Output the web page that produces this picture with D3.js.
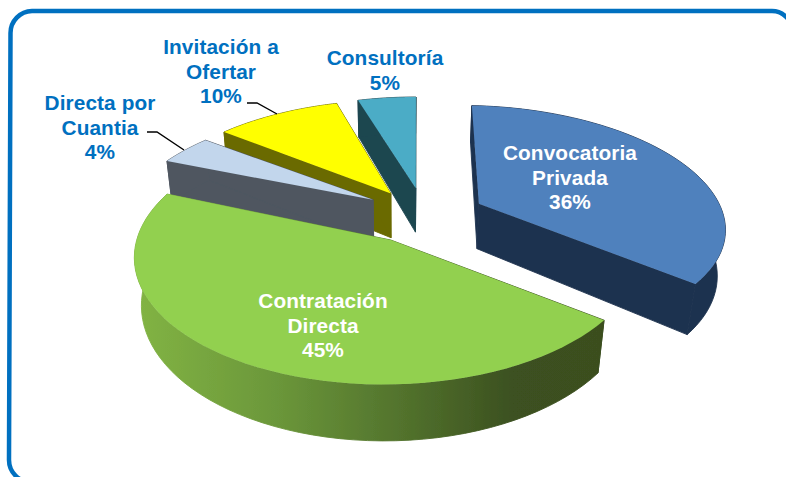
<!DOCTYPE html>
<html><head><meta charset="utf-8">
<script src="https://cdnjs.cloudflare.com/ajax/libs/d3/7.8.5/d3.min.js"></script>
<style>html,body{margin:0;padding:0;background:#fff;overflow:hidden}svg{display:block}text{font-family:"Liberation Sans",Arial,sans-serif;font-weight:700;font-size:20.8px;text-anchor:middle;letter-spacing:0.1px}</style>
</head><body><svg id="c" width="786" height="477"></svg>
<script>
const categories=[["Convocatoria","Privada"],["Contratación","Directa"],["Directa por","Cuantia"],["Invitación a","Ofertar"],["Consultoría"]];
const values=[36,45,4,10,5];
const topColors=["#4f81bd","#92d050","#c2d6ec","#ffff00","#4bacc6"];
const sideColors=["#1f334f","url(#gSide)","#4f5761","#6b6a00","#1f4650"];
const labelColors=["#fff","#fff","#0070c0","#0070c0","#0070c0"];
const labelX=[570,323,100,221,385];
const labelY=[160,308,110,54,65];
// per-slice explode (disk units) and rim fit
const rimU=[0.338,-0.05,-0.076,-0.011,0.089];
const rimV=[-0.205,0.07,-0.122,-0.23,-0.324];
const rimR=[1.03,1,1.1,1.09,1.04];
const apexU=[0.337,-0.036,-0.116,-0.04,0.07];
const apexV=[-0.10,0.205,-0.135,-0.195,-0.245];
const startShiftDeg=[3,2.4,0,0,0];
const endShiftDeg=[5,-6.6,0,0,0];
const paintOrder=[4,3,2,0,1];
const leaders=[[[247,103],[257,103],[277,114]],[[147,132],[157,132],[184,150]]];

const svg=d3.select("#c");
const cam={cx:400,cy:215,f:240,g:116,p:0.25,h:47,q:0.025};
const defs=svg.append("defs");
const gr=defs.append("linearGradient").attr("id","gSide").attr("gradientUnits","userSpaceOnUse").attr("x1",135).attr("x2",605).attr("y1",0).attr("y2",0);
[[0,"#82b444"],[0.3,"#6b973a"],[0.6,"#4f6e2b"],[0.8,"#3c5120"],[1,"#3b4e1f"]].forEach(s=>gr.append("stop").attr("offset",s[0]).attr("stop-color",s[1]));
defs.append("filter").attr("id","soft").append("feGaussianBlur").attr("stdDeviation",0.35);

function project(u,v,bottom){
  const w=1-cam.p*v+(bottom?cam.q:0);
  return [cam.cx+cam.f*u/w,cam.cy+(cam.g*v+(bottom?cam.h:0))/w];
}
const line=d3.line();
const arcs=d3.pie().sort(null).startAngle(0).endAngle(2*Math.PI)(values);
const gChart=svg.append("g").attr("filter","url(#soft)");
const rad=d=>d*Math.PI/180;

paintOrder.forEach(i=>{
  const a=arcs[i];
  const a0=a.startAngle+rad(startShiftDeg[i]),a1=a.endAngle+rad(endShiftDeg[i]);
  const angs=d3.range(0,61).map(k=>a0+(a1-a0)*k/60);
  const rim=angs.map(t=>[rimU[i]+rimR[i]*Math.sin(t),rimV[i]-rimR[i]*Math.cos(t)]);
  const apex=[apexU[i],apexV[i]];
  const g=gChart.append("g");
  const wall=(pts)=>{
    const poly=pts.map(p=>project(p[0],p[1],false)).concat(pts.slice().reverse().map(p=>project(p[0],p[1],true)));
    g.append("path").attr("d",line(poly)+"Z").attr("fill",sideColors[i]).attr("stroke",sideColors[i]).attr("stroke-width",0.9);
  };
  wall([apex,rim[0]]);
  wall([apex,rim[60]]);
  wall(rim);
  const topPts=[apex].concat(rim).map(p=>project(p[0],p[1],false));
  g.append("path").attr("d",line(topPts)+"Z").attr("fill",topColors[i]);
});

leaders.forEach(l=>svg.append("path").attr("d",line(l)).attr("fill","none").attr("stroke","#000").attr("stroke-width",1.4));

categories.forEach((lines,i)=>{
  const rows=lines.concat([values[i]+"%"]);
  const t=svg.append("text").attr("fill",labelColors[i]);
  rows.forEach((r,k)=>t.append("tspan").attr("x",labelX[i]).attr("y",labelY[i]+k*24.6).text(r));
});

svg.append("path").attr("d","M31,482A22,22 0 0 1 9,460L10.5,33A22,22 0 0 1 32,11L772,11A20,20 0 0 1 792,31")
  .attr("fill","none").attr("stroke","#0070c0").attr("stroke-width",4.5);
</script></body></html>
